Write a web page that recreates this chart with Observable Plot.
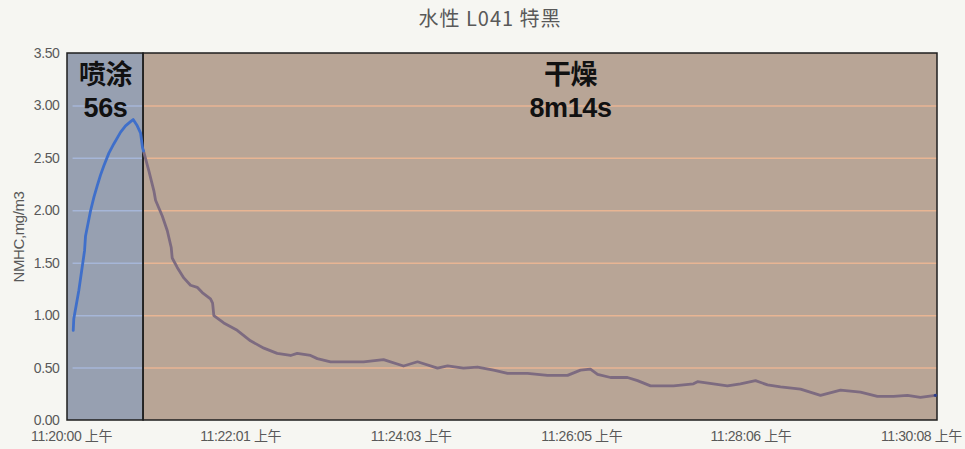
<!DOCTYPE html>
<html>
<head>
<meta charset="utf-8">
<script src="https://cdn.jsdelivr.net/npm/d3@7"></script>
<script src="https://cdn.jsdelivr.net/npm/@observablehq/plot@0.6"></script>
<style>
  body { margin: 0; background: #f6f6f2; }
  #title { height: 36px; padding-top: 3px; line-height: 32px; text-align: center; font: 20px "Noto Sans CJK SC", sans-serif; letter-spacing: 1px; color: #595959; padding-left: 15px; box-sizing: border-box; }
  #chart svg text { letter-spacing: -0.4px; }
  #chart svg text.ann { letter-spacing: 0; }
</style>
</head>
<body>
<div id="title">水性 L041 特黑</div>
<div id="chart"></div>
<script>
// ---- data (seconds after 11:20:00, NMHC mg/m3) ----
const sprayTimes = [1.2, 1.6, 5.2, 9.3, 10.0, 13.6, 16.0, 18.4, 20.7, 23.1, 26.7, 30.3, 35.1, 38.6, 42.2, 44.1, 47.0, 49.4, 50.8, 51.5];
const sprayValues = [0.86, 0.97, 1.24, 1.62, 1.76, 2.00, 2.13, 2.24, 2.34, 2.43, 2.55, 2.64, 2.75, 2.81, 2.85, 2.87, 2.81, 2.74, 2.60, 2.57];

const dryTimes = [51.5, 55.3, 58.9, 60.1, 64.9, 68.5, 71.3, 72.0, 75.6, 80.3, 85.1, 89.9, 93.5, 99.4, 100.9, 101.8, 108.9, 118.5, 128.0, 137.6, 147.1, 156.7, 161.4, 171.0, 175.8, 185.3, 192.4, 208.9, 223.2, 237.5, 247.5, 261.8, 269.0, 280.4, 290.4, 301.9, 311.9, 326.2, 340.5, 354.8, 364.1, 371.2, 376.3, 385.6, 397.7, 404.9, 414.2, 430.6, 444.9, 447.8, 459.2, 469.2, 478.5, 489.3, 497.9, 507.2, 521.5, 535.8, 550.1, 564.4, 576.5, 588.0, 598.0, 607.3, 618.0];
const dryValues = [2.57, 2.38, 2.19, 2.10, 1.95, 1.81, 1.65, 1.55, 1.46, 1.36, 1.29, 1.27, 1.22, 1.16, 1.12, 1.00, 0.93, 0.86, 0.76, 0.69, 0.64, 0.62, 0.64, 0.62, 0.59, 0.56, 0.56, 0.56, 0.58, 0.52, 0.56, 0.50, 0.52, 0.50, 0.51, 0.48, 0.45, 0.45, 0.43, 0.43, 0.48, 0.49, 0.44, 0.41, 0.41, 0.38, 0.33, 0.33, 0.35, 0.37, 0.35, 0.33, 0.35, 0.38, 0.34, 0.32, 0.30, 0.24, 0.29, 0.27, 0.23, 0.23, 0.24, 0.22, 0.24];

const phaseNames = ["喷涂", "干燥"];
const phaseDurations = ["56s", "8m14s"];
const phaseStart = [-2.9, 51.5];
const phaseEnd = [51.5, 619.5];

const xTickTimes = [0, 121, 243, 365, 486, 608];
const xTickLabels = ["11:20:00 上午", "11:22:01 上午", "11:24:03 上午", "11:26:05 上午", "11:28:06 上午", "11:30:08 上午"];
const yTicks = [0, 0.5, 1, 1.5, 2, 2.5, 3, 3.5];
const gridValues = [0.5, 1, 1.5, 2, 2.5, 3];

// ---- tables ----
const spray = sprayTimes.map((t, i) => ({t, v: sprayValues[i]}));
const dry = dryTimes.map((t, i) => ({t, v: dryValues[i]}));
const phases = phaseNames.map((name, i) => ({name, dur: phaseDurations[i], start: phaseStart[i], end: phaseEnd[i]}));

const font = "'Liberation Sans', 'Noto Sans CJK SC', sans-serif";
const annFont = "'Noto Sans CJK SC', sans-serif";
const durFont = "'Liberation Sans', 'Noto Sans CJK SC', sans-serif";
const mid = d => (d.start + d.end) / 2;

const chart = Plot.plot({
  width: 965,
  height: 413,
  marginTop: 17,
  marginBottom: 29,
  marginLeft: 67,
  marginRight: 28,
  style: {background: "transparent", fontFamily: font, fontSize: "14px", color: "#595959"},
  x: {type: "linear", domain: [phaseStart[0], phaseEnd[1]]},
  y: {domain: [0, 3.5]},
  marks: [
    Plot.rect([phases[0]], {x1: "start", x2: "end", y1: 0, y2: 3.5, fill: "#97a0b1"}),
    Plot.rect([phases[1]], {x1: "start", x2: "end", y1: 0, y2: 3.5, fill: "#b8a596"}),
    Plot.ruleY(gridValues, {x1: phaseStart[0] + 4, x2: phaseEnd[0], stroke: "#a6b6d8", strokeWidth: 1.5}),
    Plot.ruleY(gridValues, {x1: phaseStart[1], x2: phaseEnd[1], stroke: "#e8b593", strokeWidth: 1.5}),
    Plot.rect(phases, {x1: "start", x2: "end", y1: 0, y2: 3.5, fill: "none", stroke: "#1e1e1e", strokeWidth: 1.5}),
    Plot.line(dry, {x: "t", y: "v", stroke: "#7d6b80", strokeWidth: 2.8, strokeLinejoin: "round"}),
    Plot.line(spray, {x: "t", y: "v", stroke: "#3f6fca", strokeWidth: 2.8, strokeLinejoin: "round"}),
    Plot.dot([dry[dry.length - 1]], {x: "t", y: "v", r: 1.6, fill: "#2d3f8a"}),
    // phase annotations (name, then duration)
    Plot.text([phases[0]], {x: mid, y: 3.5, text: "name", dy: 22, fontSize: 27, fontWeight: "bold", fill: "#111", fontFamily: annFont, className: "ann"}),
    Plot.text([phases[0]], {x: mid, y: 3.5, text: "dur", dy: 54.5, fontSize: 27, fontWeight: "bold", fill: "#111", fontFamily: durFont, className: "ann"}),
    Plot.text([phases[1]], {x: mid, y: 3.5, text: "name", dx: 30, dy: 22, fontSize: 27, fontWeight: "bold", fill: "#111", fontFamily: annFont, className: "ann"}),
    Plot.text([phases[1]], {x: mid, y: 3.5, text: "dur", dx: 30, dy: 54.5, fontSize: 27, fontWeight: "bold", fill: "#111", fontFamily: durFont, className: "ann"}),
    Plot.axisY(yTicks, {tickSize: 0, tickPadding: 8, tickFormat: d3.format(".2f"), label: null, fontSize: 14, fill: "#595959"}),
    Plot.axisX(xTickTimes, {tickSize: 0, tickPadding: 11, tickFormat: d => xTickLabels[xTickTimes.indexOf(d)], label: null, fontSize: 14, fill: "#595959"}),
    Plot.text(["NMHC,mg/m3"], {frameAnchor: "left", textAnchor: "middle", dx: -48, rotate: -90, fontSize: 15, fill: "#595959"})
  ]
});
document.getElementById("chart").appendChild(chart);
</script>
</body>
</html>
